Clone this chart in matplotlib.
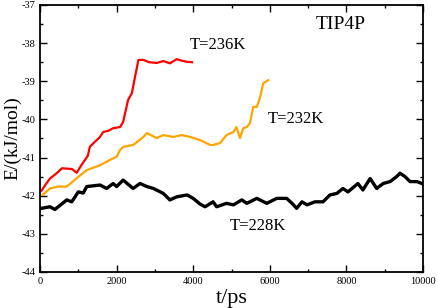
import matplotlib
matplotlib.use("Agg")
import matplotlib.pyplot as plt
from matplotlib.ticker import MultipleLocator

plt.rcParams['font.family'] = ['Liberation Serif', 'DejaVu Serif']
plt.rcParams['axes.unicode_minus'] = False

# T=236K (red)
t_red = [40, 150, 260, 436, 575, 700, 835, 958, 1080, 1250, 1300, 1420, 1566, 1650, 1780, 1910,
         2090, 2170, 2300, 2400, 2480, 2570, 2700, 2850, 3050, 3220, 3390, 3570, 3700, 3840, 3970]
e_red = [-41.87, -41.7, -41.55, -41.41, -41.28, -41.29, -41.3, -41.4, -41.2, -40.95, -40.72, -40.6,
         -40.46, -40.33, -40.3, -40.23, -40.2, -40.07, -39.49, -39.31, -38.89, -38.44, -38.44,
         -38.5, -38.52, -38.47, -38.53, -38.42, -38.46, -38.49, -38.5]

# T=232K (orange)
t_org = [70, 260, 470, 700, 960, 1220, 1570, 1830, 2000, 2090, 2170, 2430, 2700, 2790, 3050,
         3220, 3480, 3700, 3920, 4180, 4440, 4520, 4700, 4870, 5050, 5130, 5220, 5310, 5400,
         5480, 5570, 5660, 5750, 5830, 5960]
e_org = [-41.98, -41.81, -41.76, -41.76, -41.54, -41.33, -41.2, -41.06, -40.98, -40.8, -40.72,
         -40.67, -40.46, -40.36, -40.49, -40.41, -40.46, -40.41, -40.46, -40.54, -40.67, -40.67,
         -40.62, -40.41, -40.33, -40.2, -40.49, -40.23, -40.2, -40.1, -39.67, -39.67, -39.41,
         -39.05, -38.97]

# T=228K (black)
t_blk = [40, 260, 390, 700, 830, 1000, 1130, 1220, 1570, 1740, 1910, 2000, 2170, 2430, 2610,
         2790, 2960, 3220, 3390, 3570, 3840, 4000, 4180, 4310, 4520, 4610, 4870, 5050, 5270,
         5400, 5660, 5920, 6180, 6440, 6580, 6700, 6840, 6970, 7180, 7390, 7570, 7750, 7910,
         8040, 8300, 8430, 8620, 8790, 8960, 9140, 9310, 9400, 9530, 9660, 9840, 9970]
e_blk = [-42.33, -42.29, -42.36, -42.11, -42.16, -41.9, -41.93, -41.76, -41.72, -41.81, -41.68,
         -41.76, -41.59, -41.81, -41.68, -41.76, -41.81, -41.94, -42.11, -42.03, -41.98, -42.07,
         -42.22, -42.29, -42.16, -42.29, -42.2, -42.24, -42.11, -42.2, -42.07, -42.2, -42.07,
         -42.07, -42.2, -42.33, -42.16, -42.24, -42.16, -42.16, -41.98, -41.94, -41.81, -41.9,
         -41.68, -41.85, -41.55, -41.81, -41.68, -41.63, -41.5, -41.41, -41.5, -41.63, -41.63,
         -41.68]

fig = plt.figure(figsize=(4.38, 3.08), dpi=100)
ax = fig.add_axes([0.0913, 0.1169, 0.8745, 0.8669])

ax.plot(t_blk, e_blk, color='black', lw=2.4)
ax.plot(t_org, e_org, color='#ffa500', lw=1.6)
ax.plot(t_red, e_red, color='red', lw=1.6)

ax.set_xlim(0, 10000)
ax.set_ylim(-44, -37)
ax.xaxis.set_major_locator(MultipleLocator(2000))
ax.xaxis.set_minor_locator(MultipleLocator(1000))
ax.yaxis.set_major_locator(MultipleLocator(1))
ax.yaxis.set_minor_locator(MultipleLocator(0.5))
ax.tick_params(which='both', direction='in', top=True, right=True, labelsize=7.5, width=1)
ax.tick_params(which='major', length=5)
ax.tick_params(which='minor', length=2.5)
for s in ax.spines.values():
    s.set_linewidth(1.3)

ax.set_xlabel('t/ps', fontsize=16, labelpad=2)
ax.set_ylabel('E/(kJ/mol)', fontsize=14, labelpad=0)

ax.text(4650, -38.05, 'T=236K', fontsize=12, ha='center', va='center')
ax.text(6680, -39.99, 'T=232K', fontsize=12, ha='center', va='center')
ax.text(5690, -42.8, 'T=228K', fontsize=12, ha='center', va='center')
ax.text(7860, -37.52, 'TIP4P', fontsize=14, ha='center', va='center')

fig.savefig('out.png', dpi=100)
